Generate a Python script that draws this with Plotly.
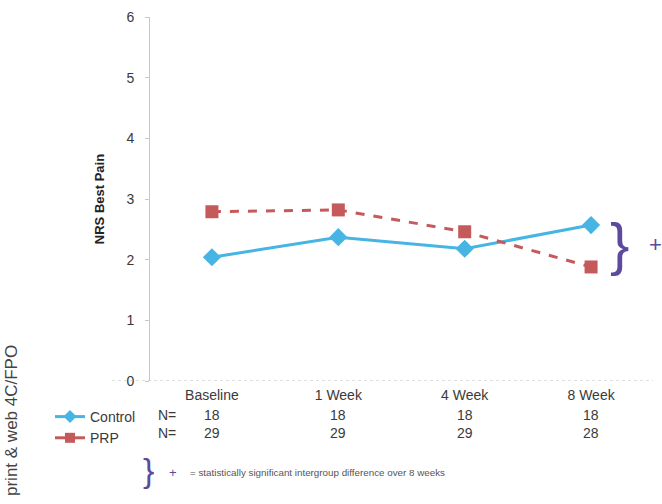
import plotly.graph_objects as go

categories = ["Baseline", "1 Week", "4 Week", "8 Week"]
control = [2.04, 2.37, 2.18, 2.57]
prp = [2.79, 2.82, 2.46, 1.88]
n_control = ["18", "18", "18", "18"]
n_prp = ["29", "29", "29", "28"]
y_ticks = [0, 1, 2, 3, 4, 5, 6]

FONT = "Arial, Liberation Sans, sans-serif"
TXT = "#3a3a3a"
BLUE = "#47b5e3"
RED = "#c55a5a"
BRACE = "#5c4a9c"

W, H = 662, 504
ML, MR, MT, MB = 0, 9, 17, 0
PW, PH = W - ML - MR, H - MT - MB


def px(x):
    return (x - ML) / PW


def py(y):
    return 1 - (y - MT) / PH


fig = go.Figure()
fig.add_trace(go.Scatter(
    x=categories, y=control, name="Control", mode="lines+markers",
    line=dict(color=BLUE, width=3), showlegend=False,
    marker=dict(symbol="diamond", size=14, color=BLUE),
))
fig.add_trace(go.Scatter(
    x=categories, y=prp, name="PRP", mode="lines+markers",
    line=dict(color=RED, width=3, dash="dash"), showlegend=False,
    marker=dict(symbol="square", size=13, color=RED),
))
# legend entries (smaller symbols, as in the reference)
fig.add_trace(go.Scatter(
    x=[None], y=[None], name="Control", mode="lines+markers",
    line=dict(color=BLUE, width=3),
    marker=dict(symbol="diamond", size=10, color=BLUE),
))
fig.add_trace(go.Scatter(
    x=[None], y=[None], name="PRP", mode="lines+markers",
    line=dict(color=RED, width=3),
    marker=dict(symbol="square", size=10, color=RED),
))


def note(x, y, text, size, color=TXT, family=FONT, xanchor="center", **kw):
    return dict(x=x, y=y, text=text, showarrow=False, xanchor=xanchor,
                yanchor="middle", font=dict(size=size, color=color, family=family), **kw)


ann = []
for i, c in enumerate(categories):
    ann.append(note(c, py(415), n_control[i], 14, xref="x", yref="paper"))
    ann.append(note(c, py(433), n_prp[i], 14, xref="x", yref="paper"))
for yy in [415, 433]:
    ann.append(note(px(167), py(yy), "N=", 14, xref="paper", yref="paper"))

# right-hand bracket and plus
ann.append(note(px(619), py(243), "}", 58, color=BRACE, family="Liberation Sans",
                xref="paper", yref="paper"))
ann.append(note(px(655), py(244), "+", 22, color=BRACE, xref="paper", yref="paper"))
# footnote
ann.append(note(px(148), py(470), "}", 34, color=BRACE, family="Liberation Sans",
                xref="paper", yref="paper"))
ann.append(note(px(173), py(472), "+", 13, color=BRACE, xref="paper", yref="paper"))
ann.append(note(px(188), py(472),
                "= statistically significant intergroup difference over 8 weeks",
                9.8, color="#555555", xanchor="left", xref="paper", yref="paper"))
# side label
ann.append(note(px(11), py(421), "print &amp; web 4C/FPO", 17, color="#444444",
                xref="paper", yref="paper", textangle=-90))

fig.update_layout(
    width=W, height=H,
    margin=dict(l=ML, r=MR, t=MT, b=MB, autoexpand=False),
    paper_bgcolor="white", plot_bgcolor="white",
    font=dict(family=FONT, color=TXT),
    showlegend=True,
    legend=dict(x=px(50), y=py(401), xanchor="left", yanchor="top",
                font=dict(size=14, color=TXT, family=FONT),
                bgcolor="rgba(0,0,0,0)", tracegroupgap=0, itemwidth=30),
    xaxis=dict(domain=[px(150), 1], range=[-0.49, 3.49], showgrid=False,
               zeroline=False, showline=False, ticks="", automargin=False,
               tickfont=dict(size=14, color=TXT), ticklabelstandoff=4),
    yaxis=dict(domain=[py(381), 1], range=[0, 6], tickvals=y_ticks,
               showgrid=False, zeroline=False, automargin=False,
               showline=True, linecolor="#c8c8c8", linewidth=1,
               ticks="outside", ticklen=4, tickcolor="#c8c8c8",
               ticklabelstandoff=8,
               tickfont=dict(size=14, color=TXT),
               title=dict(text="<b>NRS Best Pain</b>",
                          font=dict(size=13, color="#222222"), standoff=18)),
    annotations=ann,
    shapes=[dict(type="line", xref="paper", yref="y", x0=px(112), x1=1.0,
                 y0=0, y1=0, line=dict(color="#c0c0c0", width=1, dash="dot"))],
)

fig.write_html("out.html", config={"displayModeBar": False},
               post_script="document.body.style.margin='0';")
